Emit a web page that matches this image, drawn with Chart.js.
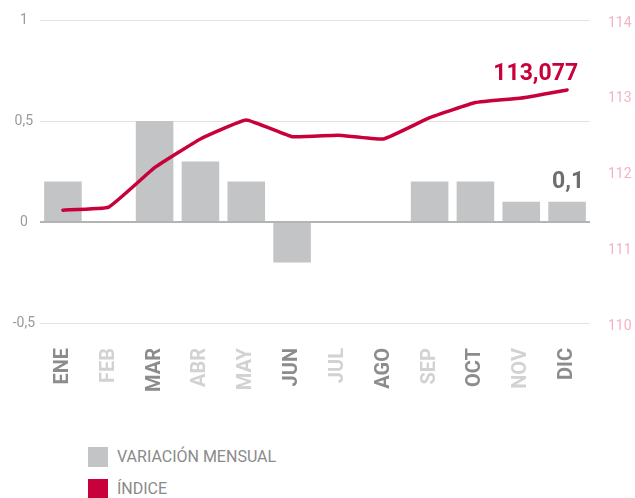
<!DOCTYPE html>
<html>
<head>
<meta charset="utf-8">
<script src="https://cdn.jsdelivr.net/npm/chart.js@4"></script>
<style>
  body { margin: 0; background: #fff; font-family: Roboto, sans-serif; }
  #wrap { position: relative; width: 635px; height: 400px; }
  .legend { position: absolute; left: 88px; font-size: 16px; color: #8a8a8a; }
  .legend span.box { display: inline-block; width: 20px; height: 20px; vertical-align: middle; margin-right: 9px; }
  .legend span.txt { vertical-align: middle; }
</style>
</head>
<body>
<div id="wrap"><canvas id="chart" width="635" height="400"></canvas></div>
<div class="legend" style="top:446px"><span class="box" style="background:#c3c4c6"></span><span class="txt">VARIACIÓN MENSUAL</span></div>
<div class="legend" style="top:478px"><span class="box" style="background:#c8003c"></span><span class="txt">ÍNDICE</span></div>
<script>
const months = ['ENE', 'FEB', 'MAR', 'ABR', 'MAY', 'JUN', 'JUL', 'AGO', 'SEP', 'OCT', 'NOV', 'DIC'];
const monthlyChange = [0.2, 0, 0.5, 0.3, 0.2, -0.2, 0, 0, 0.2, 0.2, 0.1, 0.1];
const indexValues = [111.49, 111.53, 112.05, 112.43, 112.68, 112.46, 112.48, 112.43, 112.71, 112.91, 112.97, 113.077];
const monthColors = ['#8c8c8c', '#d2d2d2', '#8c8c8c', '#d2d2d2', '#d2d2d2', '#8c8c8c', '#d2d2d2', '#8c8c8c', '#d2d2d2', '#8c8c8c', '#d2d2d2', '#8c8c8c'];
const leftTicks = [-0.5, 0, 0.5, 1];
const rightTicks = [110, 111, 112, 113, 114];

const RED = '#c8003c';
const GREY_BAR = '#c3c4c6';

// last values written on top of the chart
const endLabels = {
    id: 'endLabels',
    afterDatasetsDraw(chart) {
        const ctx = chart.ctx;
        const barPt = chart.getDatasetMeta(0).data[11];
        const linePt = chart.getDatasetMeta(1).data[11];
        ctx.save();
        ctx.font = 'bold 23px Roboto';
        ctx.textBaseline = 'alphabetic';
        ctx.fillStyle = RED;
        ctx.textAlign = 'right';
        ctx.fillText(indexValues[11].toFixed(3).replace('.', ','), linePt.x + 11, linePt.y - 10);
        ctx.fillStyle = '#6d6e70';
        ctx.textAlign = 'center';
        ctx.fillText(String(monthlyChange[11]).replace('.', ','), barPt.x + 1, barPt.y - 14);
        ctx.restore();
    }
};

// keep the plot area where the reference has it
const noPad = s => { s.paddingTop = 0; s.paddingBottom = 0; };

new Chart(document.getElementById('chart'), {
    type: 'bar',
    data: {
        labels: months,
        datasets: [{
            label: 'VARIACIÓN MENSUAL',
            data: monthlyChange,
            backgroundColor: GREY_BAR,
            yAxisID: 'y',
            categoryPercentage: 1,
            barPercentage: 0.82,
            order: 1
        }, {
            type: 'line',
            label: 'ÍNDICE',
            data: indexValues,
            borderColor: RED,
            borderWidth: 3.5,
            pointRadius: 0,
            tension: 0.1,
            borderCapStyle: 'round',
            yAxisID: 'y1',
            order: 0
        }]
    },
    options: {
        responsive: false,
        animation: false,
        layout: { padding: { top: 20, left: 0, right: 0, bottom: 0 } },
        plugins: { legend: { display: false }, tooltip: { enabled: false } },
        scales: {
            x: {
                grid: { display: false },
                border: { display: false },
                ticks: {
                    minRotation: 90,
                    maxRotation: 90,
                    padding: 17,
                    color: ctx => monthColors[ctx.index],
                    font: { family: 'Roboto', size: 20, weight: 'bold' }
                },
                afterFit: s => { s.height = 77; noPad(s); }
            },
            y: {
                position: 'left',
                min: -0.5,
                max: 1,
                afterBuildTicks: s => { s.ticks = leftTicks.map(v => ({ value: v })); },
                grid: {
                    drawTicks: false,
                    color: ctx => ctx.tick && ctx.tick.value === 0 ? '#b4b4b4' : '#e2e2e2',
                    lineWidth: ctx => ctx.tick && ctx.tick.value === 0 ? 2 : 1
                },
                border: { display: false },
                ticks: {
                    crossAlign: 'center',
                    padding: 5,
                    color: '#9a9a9a',
                    font: { family: 'Roboto', size: 14 },
                    callback: v => String(v).replace('.', ',')
                },
                afterFit: s => { s.width = 40; noPad(s); }
            },
            y1: {
                position: 'right',
                min: 110,
                max: 114,
                afterBuildTicks: s => { s.ticks = rightTicks.map(v => ({ value: v })); },
                grid: { display: false, drawTicks: false },
                border: { display: false },
                ticks: {
                    padding: 18,
                    labelOffset: 3,
                    color: '#f3b3c5',
                    font: { family: 'Roboto', size: 14 }
                },
                afterFit: s => { s.width = 45; noPad(s); }
            }
        }
    },
    plugins: [endLabels]
});
</script>
</body>
</html>
